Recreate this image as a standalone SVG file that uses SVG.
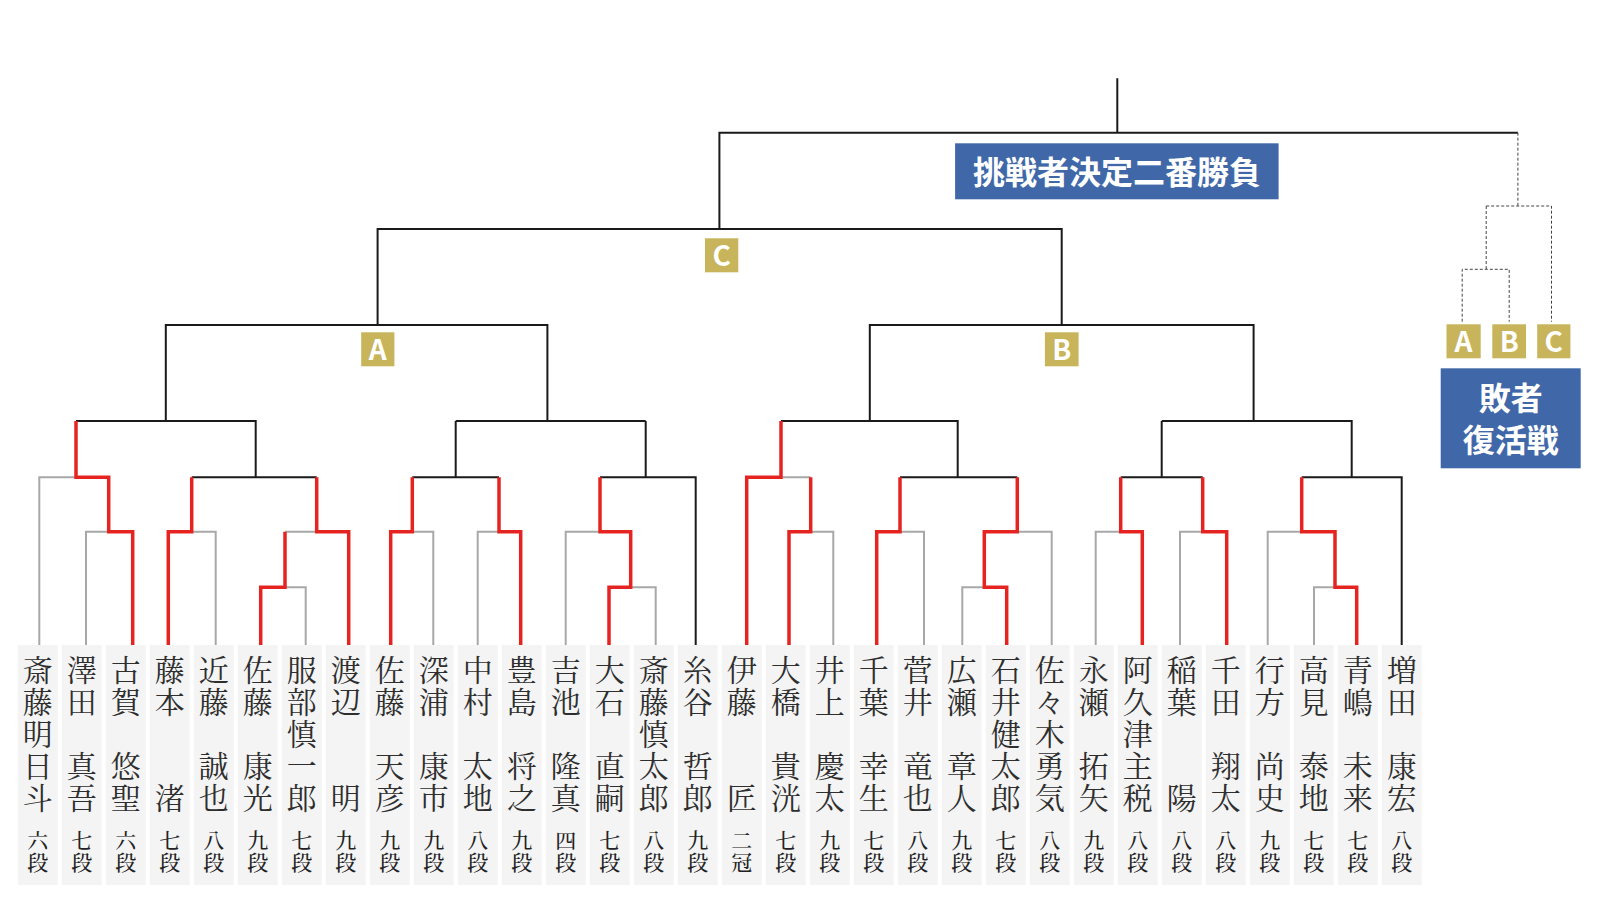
<svg xmlns="http://www.w3.org/2000/svg" width="1600" height="920" viewBox="0 0 1600 920">
<style>
.box{fill:#f4f4f4}
.nm{font-family:"Noto Serif CJK JP","Noto Sans CJK JP",serif;font-size:30px;fill:#2e2e2e;writing-mode:vertical-rl;letter-spacing:2px}
.dan{font-family:"Noto Serif CJK JP","Noto Sans CJK JP",serif;font-size:21px;font-weight:500;fill:#222;writing-mode:vertical-rl;letter-spacing:1px}
.blk{stroke:#1a1a1a;stroke-width:2;fill:none}
.gry{stroke:#a8a8a8;stroke-width:2;fill:none}
.red{stroke:#e52421;stroke-width:3.5;fill:none;stroke-linejoin:miter}
.dsh{stroke:#444;stroke-width:1;stroke-dasharray:3 2;fill:none}
.bdg{fill:#c8b45a}
.bdt{font-family:"Noto Sans CJK JP","Noto Sans",sans-serif;font-weight:bold;font-size:28px;fill:#fff;text-anchor:middle}
.ttl{fill:#4068a9}
.ttt{font-family:"Noto Sans CJK JP",sans-serif;font-weight:bold;font-size:32px;fill:#fff;text-anchor:middle}
</style>
<g id="connectors">
<g id="pending">
<path class="blk" d="M1117.3,78.3V132.7M719.4,229V132.7H1517.9"/>
<path class="blk" d="M377.6,325V229H1061.7V325"/>
<path class="blk" d="M165.8,421V325H547.4V421"/>
<path class="blk" d="M869.8,421V325H1253.6V421"/>
<path class="blk" d="M76,421H255.7V477.3M191.7,477.3H316.7"/>
<path class="blk" d="M455.7,421H645.7M455.7,421V477.3M412.3,477.3H499M645.7,421V477.3M600,477.3H695.7V645"/>
<path class="blk" d="M781,421H957.7V477.3M900,477.3H1017.3"/>
<path class="blk" d="M1161.7,421H1351.7V477.3M1161.7,421V477.3M1120.7,477.3H1202.7M1301.7,477.3H1401.7V645"/>
</g>
<g id="lost">
<path class="gry" d="M39.3,645V477.3H76M86,645V531.7H108.7"/>
<path class="gry" d="M215.7,645V531.7H191.7"/>
<path class="gry" d="M305.7,645V587.3H285M285,531.7H316.7"/>
<path class="gry" d="M433.3,645V531.7H412.3"/>
<path class="gry" d="M477.7,645V531.7H499"/>
<path class="gry" d="M655.7,645V587.3H630.7M565.7,645V531.7H600"/>
<path class="gry" d="M833.3,645V531.7H810.7M781,477.3H810.7"/>
<path class="gry" d="M924,645V531.7H900"/>
<path class="gry" d="M962.3,645V587.3H984.3M1051.7,645V531.7H1017.3"/>
<path class="gry" d="M1095.7,645V531.7H1120.7"/>
<path class="gry" d="M1180,645V531.7H1202.7"/>
<path class="gry" d="M1314,645V587.3H1335M1267.7,645V531.7H1301.7"/>
</g>
<g id="won">
<path class="red" d="M132.7,645V531.7H108.7V477.3H76V421"/>
<path class="red" d="M168.3,645V531.7H191.7V477.3"/>
<path class="red" d="M260.7,645V587.3H285V531.7"/>
<path class="red" d="M348.7,645V531.7H316.7V477.3"/>
<path class="red" d="M390.7,645V531.7H412.3V477.3"/>
<path class="red" d="M520.7,645V531.7H499V477.3"/>
<path class="red" d="M609,645V587.3H630.7V531.7H600V477.3"/>
<path class="red" d="M746.7,645V477.3H781V421"/>
<path class="red" d="M789,645V531.7H810.7V477.3"/>
<path class="red" d="M876.7,645V531.7H900V477.3"/>
<path class="red" d="M1006.7,645V587.3H984.3V531.7H1017.3V477.3"/>
<path class="red" d="M1142.3,645V531.7H1120.7V477.3"/>
<path class="red" d="M1226.7,645V531.7H1202.7V477.3"/>
<path class="red" d="M1356.7,645V587.3H1335V531.7H1301.7V477.3"/>
</g>
<g id="repechage-links">
<path class="dsh" d="M1517.9,132.7V206M1486.2,206H1551.5V321.7M1486.2,206V269.3M1462.2,321.7V269.3H1509.2V321.7"/>
</g>
</g>
<g id="title-final">
<rect class="ttl" x="955.1" y="143.3" width="323.5" height="56"/>
<text class="ttt" x="1117" y="183.5">挑戦者決定二番勝負</text>
</g>
<g id="badge-C"><rect class="bdg" x="705" y="238.3" width="33.3" height="34"/><text class="bdt" x="721.6" y="265.5">C</text></g>
<g id="badge-A"><rect class="bdg" x="361.2" y="332.3" width="33.2" height="34"/><text class="bdt" x="377.8" y="359.5">A</text></g>
<g id="badge-B"><rect class="bdg" x="1044.9" y="332.3" width="33.7" height="34"/><text class="bdt" x="1061.7" y="359.5">B</text></g>
<g id="rep-badge-A"><rect class="bdg" x="1446.5" y="324.3" width="34.2" height="34"/><text class="bdt" x="1463.6" y="351.5">A</text></g>
<g id="rep-badge-B"><rect class="bdg" x="1492.3" y="324.3" width="33.7" height="34"/><text class="bdt" x="1509.2" y="351.5">B</text></g>
<g id="rep-badge-C"><rect class="bdg" x="1537.2" y="324.3" width="33.2" height="34"/><text class="bdt" x="1553.8" y="351.5">C</text></g>
<g id="title-repechage">
<rect class="ttl" x="1440.7" y="368.3" width="140" height="100"/>
<text class="ttt"><tspan x="1510.7" y="410">敗者</tspan><tspan x="1510.7" y="452">復活戦</tspan></text>
</g>
<g id="players">
<g id="p00"><rect class="box" x="17.7" y="645" width="40" height="240"/><text class="nm" x="37.7" y="655">斎藤明日斗</text><text class="dan" x="37.7" y="830">六段</text></g>
<g id="p01"><rect class="box" x="61.7" y="645" width="40" height="240"/><text class="nm" x="81.7" y="655">澤田　真吾</text><text class="dan" x="81.7" y="830">七段</text></g>
<g id="p02"><rect class="box" x="105.7" y="645" width="40" height="240"/><text class="nm" x="125.7" y="655">古賀　悠聖</text><text class="dan" x="125.7" y="830">六段</text></g>
<g id="p03"><rect class="box" x="149.7" y="645" width="40" height="240"/><text class="nm" x="169.7" y="655">藤本　　渚</text><text class="dan" x="169.7" y="830">七段</text></g>
<g id="p04"><rect class="box" x="193.7" y="645" width="40" height="240"/><text class="nm" x="213.7" y="655">近藤　誠也</text><text class="dan" x="213.7" y="830">八段</text></g>
<g id="p05"><rect class="box" x="237.7" y="645" width="40" height="240"/><text class="nm" x="257.7" y="655">佐藤　康光</text><text class="dan" x="257.7" y="830">九段</text></g>
<g id="p06"><rect class="box" x="281.7" y="645" width="40" height="240"/><text class="nm" x="301.7" y="655">服部慎一郎</text><text class="dan" x="301.7" y="830">七段</text></g>
<g id="p07"><rect class="box" x="325.7" y="645" width="40" height="240"/><text class="nm" x="345.7" y="655">渡辺　　明</text><text class="dan" x="345.7" y="830">九段</text></g>
<g id="p08"><rect class="box" x="369.7" y="645" width="40" height="240"/><text class="nm" x="389.7" y="655">佐藤　天彦</text><text class="dan" x="389.7" y="830">九段</text></g>
<g id="p09"><rect class="box" x="413.7" y="645" width="40" height="240"/><text class="nm" x="433.7" y="655">深浦　康市</text><text class="dan" x="433.7" y="830">九段</text></g>
<g id="p10"><rect class="box" x="457.7" y="645" width="40" height="240"/><text class="nm" x="477.7" y="655">中村　太地</text><text class="dan" x="477.7" y="830">八段</text></g>
<g id="p11"><rect class="box" x="501.7" y="645" width="40" height="240"/><text class="nm" x="521.7" y="655">豊島　将之</text><text class="dan" x="521.7" y="830">九段</text></g>
<g id="p12"><rect class="box" x="545.7" y="645" width="40" height="240"/><text class="nm" x="565.7" y="655">吉池　隆真</text><text class="dan" x="565.7" y="830">四段</text></g>
<g id="p13"><rect class="box" x="589.7" y="645" width="40" height="240"/><text class="nm" x="609.7" y="655">大石　直嗣</text><text class="dan" x="609.7" y="830">七段</text></g>
<g id="p14"><rect class="box" x="633.7" y="645" width="40" height="240"/><text class="nm" x="653.7" y="655">斎藤慎太郎</text><text class="dan" x="653.7" y="830">八段</text></g>
<g id="p15"><rect class="box" x="677.7" y="645" width="40" height="240"/><text class="nm" x="697.7" y="655">糸谷　哲郎</text><text class="dan" x="697.7" y="830">九段</text></g>
<g id="p16"><rect class="box" x="721.7" y="645" width="40" height="240"/><text class="nm" x="741.7" y="655">伊藤　　匠</text><text class="dan" x="741.7" y="830">二冠</text></g>
<g id="p17"><rect class="box" x="765.7" y="645" width="40" height="240"/><text class="nm" x="785.7" y="655">大橋　貴洸</text><text class="dan" x="785.7" y="830">七段</text></g>
<g id="p18"><rect class="box" x="809.7" y="645" width="40" height="240"/><text class="nm" x="829.7" y="655">井上　慶太</text><text class="dan" x="829.7" y="830">九段</text></g>
<g id="p19"><rect class="box" x="853.7" y="645" width="40" height="240"/><text class="nm" x="873.7" y="655">千葉　幸生</text><text class="dan" x="873.7" y="830">七段</text></g>
<g id="p20"><rect class="box" x="897.7" y="645" width="40" height="240"/><text class="nm" x="917.7" y="655">菅井　竜也</text><text class="dan" x="917.7" y="830">八段</text></g>
<g id="p21"><rect class="box" x="941.7" y="645" width="40" height="240"/><text class="nm" x="961.7" y="655">広瀬　章人</text><text class="dan" x="961.7" y="830">九段</text></g>
<g id="p22"><rect class="box" x="985.7" y="645" width="40" height="240"/><text class="nm" x="1005.7" y="655">石井健太郎</text><text class="dan" x="1005.7" y="830">七段</text></g>
<g id="p23"><rect class="box" x="1029.7" y="645" width="40" height="240"/><text class="nm" x="1049.7" y="655">佐々木勇気</text><text class="dan" x="1049.7" y="830">八段</text></g>
<g id="p24"><rect class="box" x="1073.7" y="645" width="40" height="240"/><text class="nm" x="1093.7" y="655">永瀬　拓矢</text><text class="dan" x="1093.7" y="830">九段</text></g>
<g id="p25"><rect class="box" x="1117.7" y="645" width="40" height="240"/><text class="nm" x="1137.7" y="655">阿久津主税</text><text class="dan" x="1137.7" y="830">八段</text></g>
<g id="p26"><rect class="box" x="1161.7" y="645" width="40" height="240"/><text class="nm" x="1181.7" y="655">稲葉　　陽</text><text class="dan" x="1181.7" y="830">八段</text></g>
<g id="p27"><rect class="box" x="1205.7" y="645" width="40" height="240"/><text class="nm" x="1225.7" y="655">千田　翔太</text><text class="dan" x="1225.7" y="830">八段</text></g>
<g id="p28"><rect class="box" x="1249.7" y="645" width="40" height="240"/><text class="nm" x="1269.7" y="655">行方　尚史</text><text class="dan" x="1269.7" y="830">九段</text></g>
<g id="p29"><rect class="box" x="1293.7" y="645" width="40" height="240"/><text class="nm" x="1313.7" y="655">高見　泰地</text><text class="dan" x="1313.7" y="830">七段</text></g>
<g id="p30"><rect class="box" x="1337.7" y="645" width="40" height="240"/><text class="nm" x="1357.7" y="655">青嶋　未来</text><text class="dan" x="1357.7" y="830">七段</text></g>
<g id="p31"><rect class="box" x="1381.7" y="645" width="40" height="240"/><text class="nm" x="1401.7" y="655">増田　康宏</text><text class="dan" x="1401.7" y="830">八段</text></g>
</g>
</svg>
